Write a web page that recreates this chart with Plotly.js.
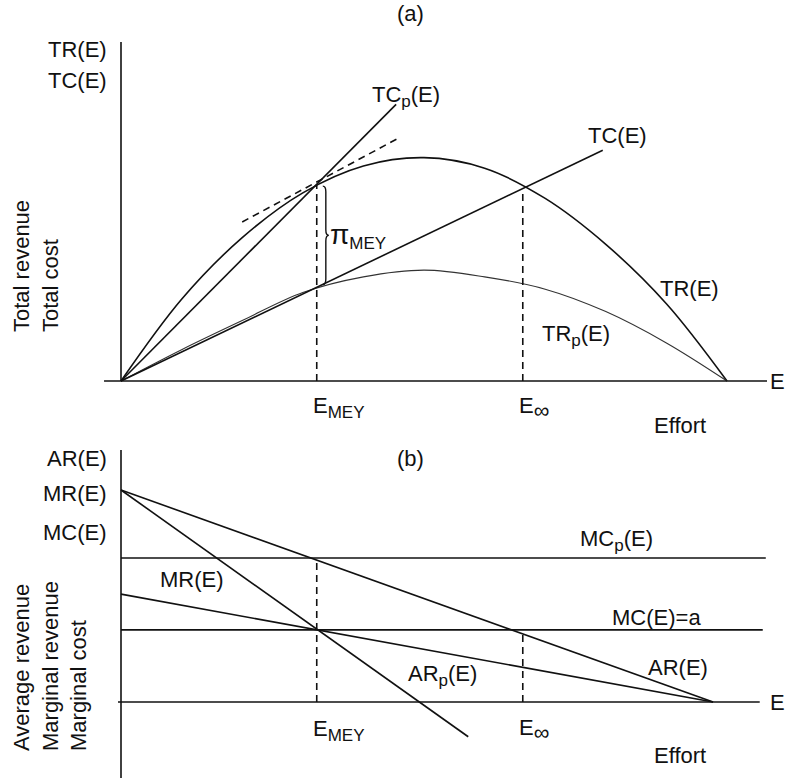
<!DOCTYPE html>
<html>
<head>
<meta charset="utf-8">
<script src="https://cdn.plot.ly/plotly-3.0.1.min.js"></script>
<style>html,body{margin:0;padding:0;background:#fff;}</style>
</head>
<body>
<div id="chart" style="width:785px;height:778px;"></div>
<script>
// ---------- DATA ----------
// Panel (a): total revenue / total cost against effort E (0..100)
const E_TR   = [0, 10, 20, 30, 40, 50, 60, 70, 80, 90, 100];
const TR     = [0, 36.5, 64, 84, 96, 99.7, 95, 81.5, 61, 34.5, 0];
const E_TRp  = [0, 10, 20, 30, 40, 50, 60, 70, 80, 90, 100];
const TRp    = [0, 14, 27, 39.5, 46.5, 49.5, 46.5, 41, 31, 17, 0];
const E_TC   = [0, 79.5];
const TC     = [0, 103];
const E_TCp  = [0, 45.4];
const TCp    = [0, 123.5];
const E_TAN  = [20, 45.5];
const TAN    = [71, 108];
const E_MEY  = 32.3;
const E_INF  = 66.3;
const TR_MEY = 88;     // TR at E_MEY
const TC_MEY = 42;     // TC at E_MEY
const TR_INF = 85.7;   // TR = TC at E_inf

// Panel (b): average / marginal revenue and marginal cost
const E_AR   = [0, 97.7];
const AR     = [100, 0];
const E_MR   = [0, 57.3];
const MR     = [100, -16.4];
const E_ARp  = [0, 97.7];
const ARp    = [50.9, 0];
const E_MCp  = [0, 106.4];
const MCp    = [67.9, 67.9];
const E_MC   = [0, 105.9];
const MC     = [34, 34];

// ---------- LAYOUT HELPERS ----------
const W = 785, H = 778;
const X0 = 121, XS = 6.06;           // pixel of E=0, px per effort unit
const YA0 = 381, YAS = 2.24;         // panel (a): pixel of 0, px per unit
const YB0 = 702, YBS = 2.12;         // panel (b)
const xr  = [-X0 / XS, (W - X0) / XS];
const yr1 = [-(H - YA0) / YAS, YA0 / YAS];
const yr2 = [-(H - YB0) / YBS, YB0 / YBS];
const px = x => x / W;
const py = y => 1 - y / H;

const BLK = '#111';
const FONT = 'Liberation Sans, Arial, Helvetica, sans-serif';
const FS = 22;

function line(x, y, ax, opt) {
  opt = opt || {};
  return {
    x: x, y: y, xaxis: 'x', yaxis: ax, type: 'scatter', mode: 'lines',
    hoverinfo: 'skip',
    line: {color: opt.color || BLK, width: opt.width || 1.6,
           dash: opt.dash || 'solid', shape: opt.shape || 'linear', smoothing: 1}
  };
}
const DASH = '7px,5px';

const traces = [
  // panel (a)
  line(E_TR, TR, 'y', {shape: 'spline'}),
  line(E_TRp, TRp, 'y', {shape: 'spline', width: 1.1, color: '#333'}),
  line(E_TC, TC, 'y'),
  line(E_TCp, TCp, 'y'),
  line(E_TAN, TAN, 'y', {dash: DASH}),
  line([E_MEY, E_MEY], [0, TR_MEY], 'y', {dash: DASH}),
  line([E_INF, E_INF], [0, TR_INF], 'y', {dash: DASH}),
  // panel (b)
  line(E_AR, AR, 'y2'),
  line(E_MR, MR, 'y2'),
  line(E_ARp, ARp, 'y2'),
  line(E_MCp, MCp, 'y2'),
  line(E_MC, MC, 'y2'),
  line([E_MEY, E_MEY], [0, MCp[0]], 'y2', {dash: DASH}),
  line([E_INF, E_INF], [0, MC[0]], 'y2', {dash: DASH})
];

// axes drawn as plain lines (as in the figure)
const axLine = {color: BLK, width: 1.6};
const shapes = [
  {type: 'line', xref: 'x', yref: 'y', x0: -2.8, x1: 106.6, y0: 0, y1: 0, line: axLine},
  {type: 'line', xref: 'x', yref: 'y', x0: 0, x1: 0, y0: 0, y1: 151.3, line: axLine},
  {type: 'line', xref: 'x', yref: 'y2', x0: -0.5, x1: 105.4, y0: 0, y1: 0, line: axLine},
  {type: 'line', xref: 'x', yref: 'y2', x0: 0, x1: 0, y0: yr2[0], y1: 118.9, line: axLine}
];

// curly brace for profit between TR and TC at E_MEY
(function () {
  const x0 = E_MEY + 1.0, w = 0.5, r = 2.5;
  const yT = TR_MEY - 1, yB = TC_MEY + 1, yM = (yT + yB) / 2;
  const p = 'M ' + x0 + ',' + yT +
    ' Q ' + (x0 + w) + ',' + yT + ' ' + (x0 + w) + ',' + (yT - r) +
    ' L ' + (x0 + w) + ',' + (yM + r) +
    ' Q ' + (x0 + w) + ',' + yM + ' ' + (x0 + 2 * w) + ',' + yM +
    ' Q ' + (x0 + w) + ',' + yM + ' ' + (x0 + w) + ',' + (yM - r) +
    ' L ' + (x0 + w) + ',' + (yB + r) +
    ' Q ' + (x0 + w) + ',' + yB + ' ' + x0 + ',' + yB;
  shapes.push({type: 'path', xref: 'x', yref: 'y', path: p, line: {color: BLK, width: 1.4}});
})();

// ---------- TEXT ----------
const sub = t => '<sub><span style="font-size:17px">' + t + '</span></sub>';
const subInf = '<sub><span style="font-size:22px">∞</span></sub>';
function lab(text, x, y, xa, opt) {
  opt = opt || {};
  return Object.assign({
    text: text, x: px(x), y: py(y), xref: 'paper', yref: 'paper',
    xanchor: xa || 'left', yanchor: 'middle', showarrow: false,
    font: {family: FONT, size: FS, color: BLK}, borderpad: 0
  }, opt);
}
const annotations = [
  // panel (a)
  lab('(a)', 410, 14, 'center'),
  lab('TR(E)', 108, 50, 'right'),
  lab('TC(E)', 108, 80, 'right'),
  lab('Total revenue<br>Total cost', 36, 266, 'center', {textangle: -90, align: 'left'}),
  lab('TC' + sub('p') + '(E)', 371, 97),
  lab('TC(E)', 587, 135),
  lab('TR(E)', 659, 288),
  lab('TR' + sub('p') + '(E)', 541, 335),
  lab('<span style="font-size:28px">π</span>' + sub('MEY'), 329, 236),
  lab('E' + sub('MEY'), 312, 407),
  lab('E' + subInf, 518, 408),
  lab('Effort', 653, 425),
  lab('E', 769, 381),
  // panel (b)
  lab('(b)', 410, 458, 'center'),
  lab('AR(E)', 108, 458, 'right'),
  lab('MR(E)', 108, 493, 'right'),
  lab('MC(E)', 108, 532, 'right'),
  lab('Average revenue<br>Marginal revenue<br>Marginal cost', 50, 666, 'center', {textangle: -90, align: 'left'}),
  lab('MR(E)', 159, 579),
  lab('MC' + sub('p') + '(E)', 579, 540),
  lab('MC(E)=a', 611, 617),
  lab('AR(E)', 647, 667),
  lab('AR' + sub('p') + '(E)', 407, 675),
  lab('E' + sub('MEY'), 312, 730),
  lab('E' + subInf, 518, 730),
  lab('Effort', 653, 755),
  lab('E', 769, 702)
];

const layout = {
  width: W, height: H, autosize: false,
  margin: {l: 0, r: 0, t: 0, b: 0, pad: 0},
  paper_bgcolor: '#fff', plot_bgcolor: '#fff',
  showlegend: false,
  font: {family: FONT, size: FS, color: BLK},
  xaxis: {range: xr, visible: false, fixedrange: true},
  yaxis: {range: yr1, visible: false, fixedrange: true},
  yaxis2: {range: yr2, visible: false, fixedrange: true, overlaying: 'y'},
  shapes: shapes,
  annotations: annotations
};

Plotly.newPlot('chart', traces, layout, {staticPlot: true, displayModeBar: false});
</script>
</body>
</html>
